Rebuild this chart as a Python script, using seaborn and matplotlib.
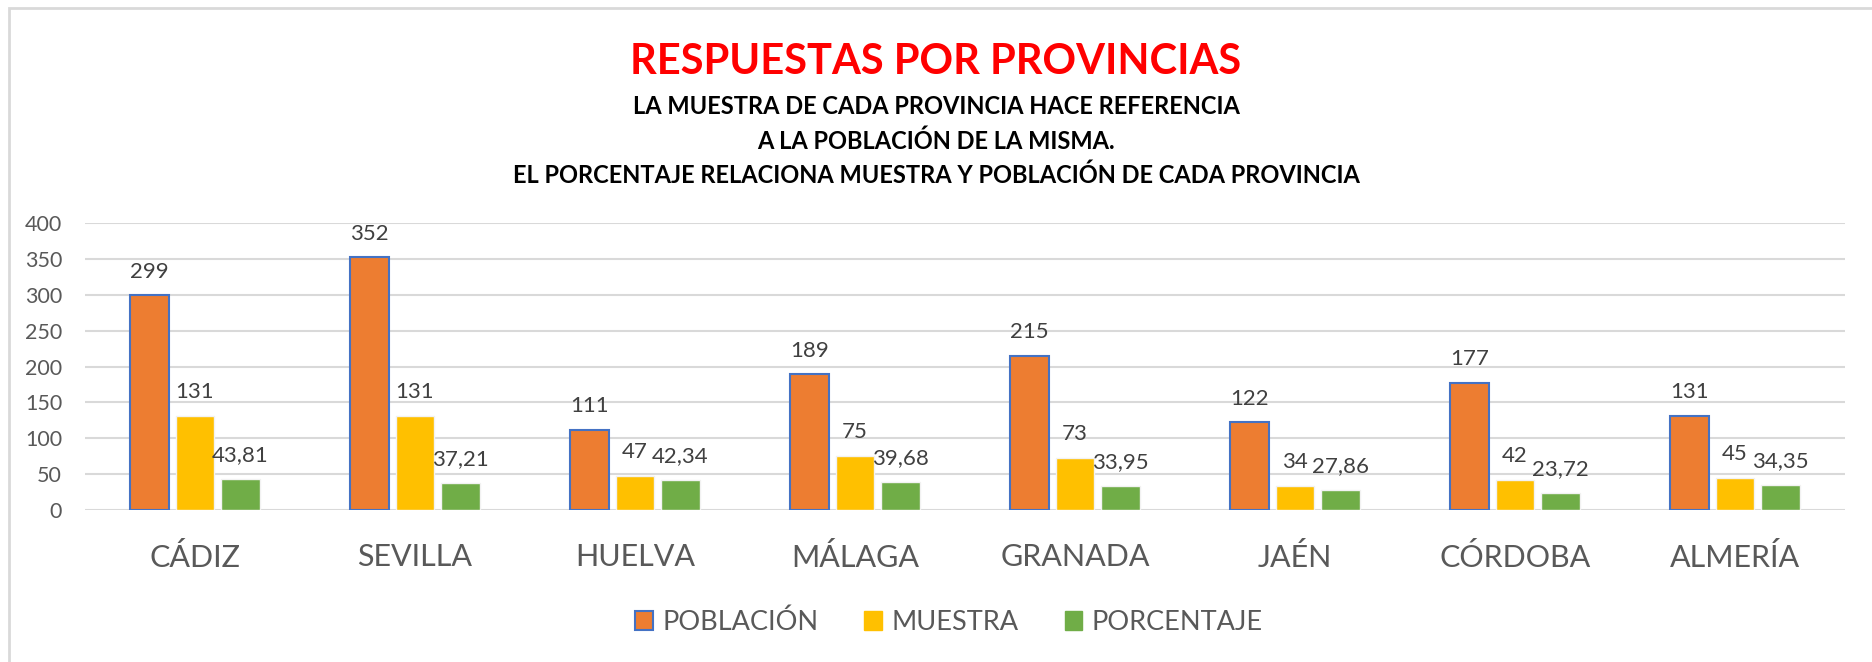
import pandas as pd
import matplotlib.pyplot as plt
import matplotlib.patches as mpatches
import seaborn as sns

# Respuestas por provincia
provincias = ['CÁDIZ', 'SEVILLA', 'HUELVA', 'MÁLAGA', 'GRANADA', 'JAÉN', 'CÓRDOBA', 'ALMERÍA']
poblacion = [299, 352, 111, 189, 215, 122, 177, 131]
muestra = [131, 131, 47, 75, 73, 34, 42, 45]
porcentaje = [43.81, 37.21, 42.34, 39.68, 33.95, 27.86, 23.72, 34.35]
series = ['POBLACIÓN', 'MUESTRA', 'PORCENTAJE']
colores = ['#ED7D31', '#FFC000', '#70AD47']

df = pd.DataFrame({'provincia': provincias, 'POBLACIÓN': poblacion,
                   'MUESTRA': muestra, 'PORCENTAJE': porcentaje})
df = df.melt(id_vars='provincia', var_name='serie', value_name='valor')

sns.set_style('white')
plt.rcParams['font.family'] = ['Lato', 'DejaVu Sans']

fig = plt.figure(figsize=(18.72, 6.62), dpi=100)
ax = fig.add_axes([0.0454, 0.2296, 0.9402, 0.4335])

sns.barplot(data=df, x='provincia', y='valor', hue='serie', hue_order=series,
            palette=colores, saturation=1, width=0.62, gap=0.16, legend=False,
            ax=ax, edgecolor='#F2F2F2', linewidth=1)

for p in ax.containers[0]:
    p.set_edgecolor('#4472C4')
    p.set_linewidth(1.5)

etiquetas = [[str(v) for v in poblacion], [str(v) for v in muestra],
             [f'{v:.2f}'.replace('.', ',') for v in porcentaje]]
for cont, labs in zip(ax.containers, etiquetas):
    ax.bar_label(cont, labels=labs, padding=10, fontsize=16, color='#404040')

ax.set_ylim(0, 400)
ax.set_yticks(range(0, 401, 50))
ax.yaxis.grid(True, color='#D9D9D9', linewidth=1.5)
ax.set_axisbelow(True)
sns.despine(ax=ax, left=True, bottom=True)
ax.set_xlabel('')
ax.set_ylabel('')
ax.tick_params(axis='y', labelsize=15.5, labelcolor='#595959', pad=16.5, length=0)
ax.tick_params(axis='x', labelsize=22, labelcolor='#595959', pad=24, length=0)

fig.text(0.5, 0.907, 'RESPUESTAS POR PROVINCIAS', ha='center', va='center',
         fontsize=30, fontweight='bold', color='#FF0000')
subtitulo = ['LA MUESTRA DE CADA PROVINCIA HACE REFERENCIA',
             'A LA POBLACIÓN DE LA MISMA.',
             'EL PORCENTAJE RELACIONA MUESTRA Y POBLACIÓN DE CADA PROVINCIA']
for i, linea in enumerate(subtitulo):
    fig.text(0.5, 0.839 - i * 0.052, linea, ha='center', va='center',
             fontsize=17, fontweight='bold', color='black')

handles = [mpatches.Patch(facecolor=colores[0], edgecolor='#4472C4', linewidth=1.5),
           mpatches.Patch(facecolor=colores[1], edgecolor=colores[1]),
           mpatches.Patch(facecolor=colores[2], edgecolor=colores[2])]
fig.legend(handles, series, loc='center', bbox_to_anchor=(0.507, 0.06), ncol=3,
           frameon=False, fontsize=19.5, labelcolor='#595959', handlelength=0.65,
           handleheight=0.65, columnspacing=1.7, handletextpad=0.35)

fig.patches.append(mpatches.Rectangle((0.005, -0.01), 1.0, 0.998, transform=fig.transFigure,
                                      fill=False, edgecolor='#D9D9D9', linewidth=2))

fig.savefig('out.png', dpi=100)
